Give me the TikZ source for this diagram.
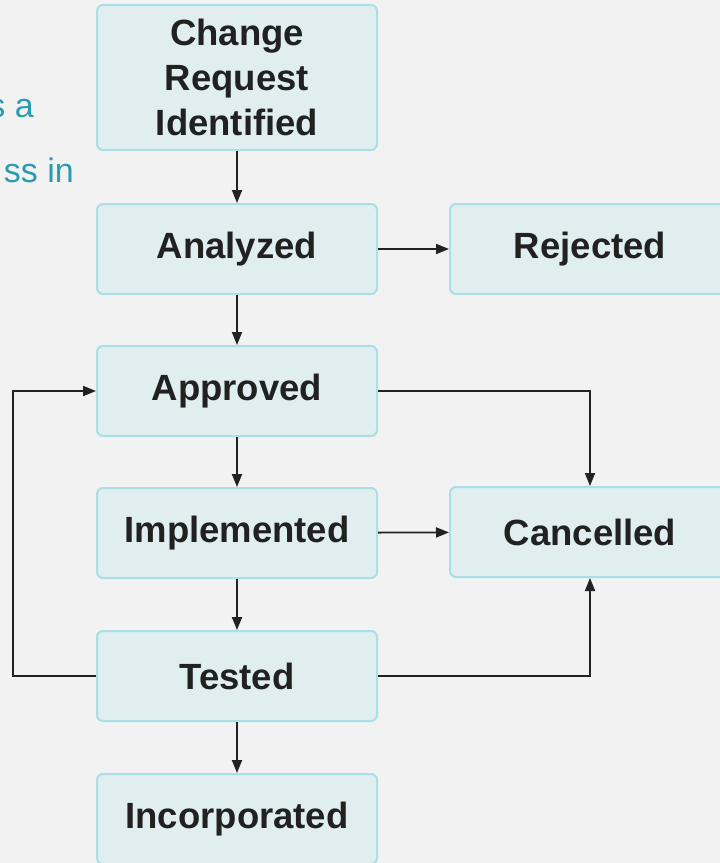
\documentclass[tikz,border=0pt]{standalone}
\usepackage{fontspec}
\setmainfont{Liberation Sans}
\usetikzlibrary{arrows.meta}
\definecolor{bg}{HTML}{F2F2F2}
\definecolor{boxfill}{HTML}{E0EEF0}
\definecolor{boxline}{HTML}{A9DFE6}
\definecolor{linec}{HTML}{222222}
\definecolor{teal}{HTML}{2A9CB0}
\tikzset{
  stepbox/.style={draw=boxline, fill=boxfill, line width=2pt, rounded corners=6pt,
    minimum width=280pt, minimum height=90pt, inner sep=0pt, align=center,
    font=\fontsize{36.5}{45}\selectfont\bfseries, text=black!87},
  arr/.style={draw=linec, line width=1.8pt, -{Triangle[length=13pt,width=10pt]}},
  side/.style={text=teal, font=\fontsize{34}{40}\selectfont, inner sep=0pt, anchor=base east}
}
\begin{document}
\begin{tikzpicture}[x=1pt,y=-1pt]
\fill[bg] (0,0) rectangle (720,863);
\useasboundingbox (0,0) rectangle (720,863);
\clip (0,0) rectangle (720,863);
\node[side] (t1) at (34,117) {s a};
\node[side] (t2) at (74,182) {ss in};
\node[stepbox, minimum height=145pt] (cri) at (237,77.5) {Change\\Request\\Identified};
\node[stepbox] (ana) at (237,249) {Analyzed};
\node[stepbox] (rej) at (590,249) {Rejected};
\node[stepbox] (app) at (237,391) {Approved};
\node[stepbox] (imp) at (237,533) {Implemented};
\node[stepbox] (can) at (590,532) {Cancelled};
\node[stepbox] (tes) at (237,676) {Tested};
\node[stepbox] (inc) at (237,819) {Incorporated};
\coordinate (lp) at (13,533);
\draw[arr] (cri) -- (ana);
\draw[arr] (ana) -- (rej);
\draw[arr] (ana) -- (app);
\draw[arr] (app) -- (imp);
\draw[arr] (imp) -- (can);
\draw[arr] (imp) -- (tes);
\draw[arr] (tes) -- (inc);
\draw[arr] (app.east) -| (can.north);
\draw[arr] (tes.east) -| (can.south);
\draw[arr] (tes.west) -| (lp) |- (app.west);
\end{tikzpicture}
\end{document}
